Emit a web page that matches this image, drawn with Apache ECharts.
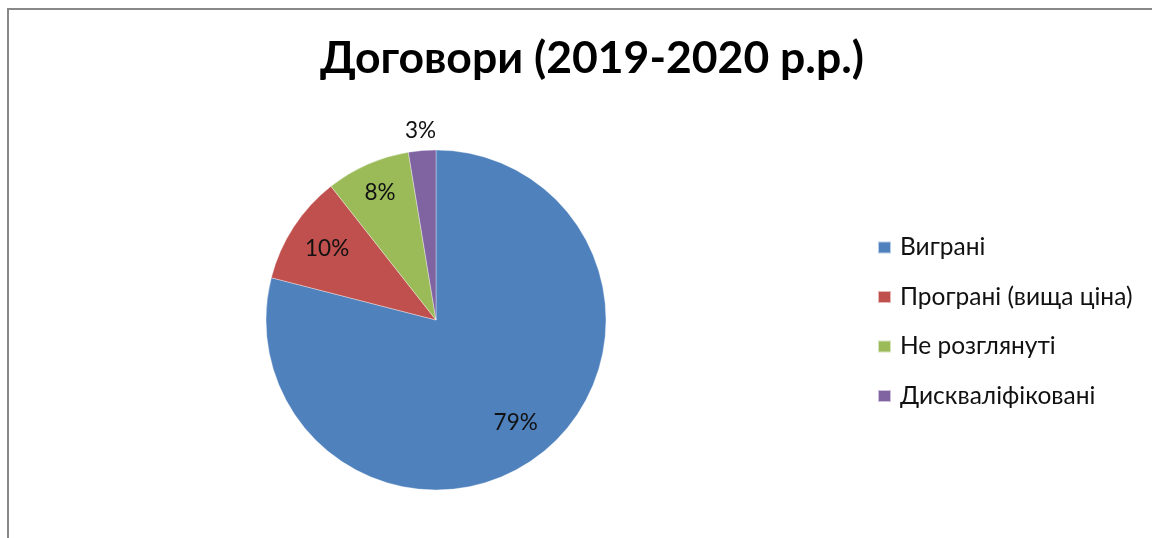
<!DOCTYPE html>
<html>
<head>
<meta charset="utf-8">
<script src="https://cdn.jsdelivr.net/npm/echarts@6/dist/echarts.min.js"></script>
<style>
html,body{margin:0;padding:0;background:#fff;}
#chart{width:1152px;height:538px;}
</style>
</head>
<body>
<div id="chart"></div>
<script>
const categories = ['Виграні', 'Програні (вища ціна)', 'Не розглянуті', 'Дискваліфіковані'];
const values = [79.0, 10.4, 8.0, 2.6];
const colors = ['#4F81BD', '#C0504D', '#9BBB59', '#8064A2'];
const titleText = 'Договори (2019-2020 р.р.)';

const CX = 436, CY = 320, R = 170;
// target radial distance of each label from the centre (layout only)
const labelDist = [130, 130, 139, 190];

const chart = echarts.init(document.getElementById('chart'), null, {renderer: 'canvas'});
const FONT = 'Lato, "Open Sans", "Noto Sans", sans-serif';

chart.setOption({
  animation: false,
  backgroundColor: '#ffffff',
  color: colors,
  title: {
    text: titleText,
    left: 587,
    textAlign: 'center',
    top: 31,
    textStyle: {fontFamily: FONT, fontSize: 44.5, fontWeight: 'bold', color: '#000'}
  },
  legend: {
    orient: 'vertical',
    left: 872,
    top: 230,
    itemWidth: 13,
    itemHeight: 12,
    itemGap: 24.5,
    icon: 'rect',
    textStyle: {fontFamily: FONT, fontSize: 24.5, lineHeight: 24, color: '#111', padding: [0, 0, 0, 4]},
    data: categories
  },
  graphic: [{
    type: 'rect',
    shape: {x: 8, y: 9, width: 1200, height: 600},
    style: {fill: 'none', stroke: '#888', lineWidth: 2},
    silent: true,
    z: 100
  }],
  series: [{
    type: 'pie',
    center: [CX, CY],
    radius: [0, R],
    startAngle: 90,
    clockwise: true,
    percentPrecision: 0,
    itemStyle: {borderColor: 'rgba(255,255,255,0.6)', borderWidth: 0.6},
    label: {
      show: true,
      position: 'inside',
      formatter: '{d}%',
      fontFamily: FONT,
      fontSize: 22.5,
      color: '#111'
    },
    labelLine: {show: false},
    labelLayout: function (p) {
      const r = p.labelRect;
      const lx = r.x + r.width / 2, ly = r.y + r.height / 2;
      const d = Math.hypot(lx - CX, ly - CY) || 1;
      const k = labelDist[p.dataIndex] / d;
      return {x: CX + (lx - CX) * k, y: CY + (ly - CY) * k};
    },
    emphasis: {disabled: true},
    data: categories.map((c, i) => ({name: c, value: values[i]}))
  }]
});
</script>
</body>
</html>
